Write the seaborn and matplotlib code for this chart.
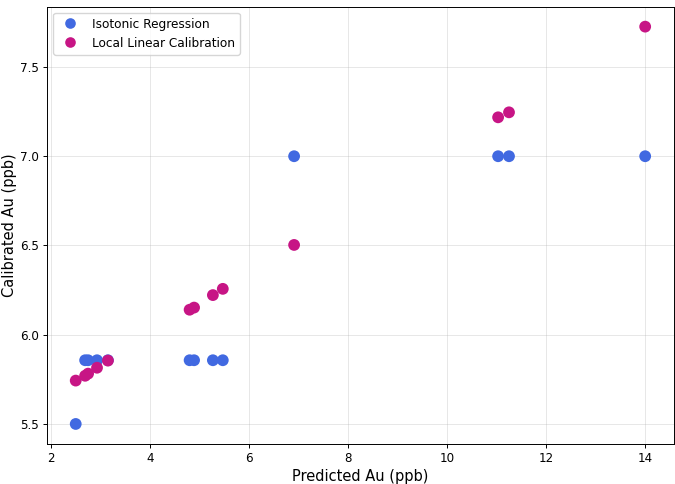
import matplotlib
matplotlib.use("Agg")
import matplotlib.pyplot as plt
import seaborn as sns
import pandas as pd

iso_x = [2.5, 2.69, 2.75, 2.93, 3.15, 4.80, 4.89, 5.27, 5.47, 6.91, 11.03, 11.25, 14.0]
iso_y = [5.5, 5.857, 5.857, 5.857, 5.857, 5.857, 5.857, 5.857, 5.857, 7.0, 7.0, 7.0, 7.0]
llc_x = [2.5, 2.69, 2.75, 2.93, 3.15, 4.80, 4.89, 5.27, 5.47, 6.91, 11.03, 11.25, 14.0]
llc_y = [5.743, 5.770, 5.782, 5.815, 5.855, 6.140, 6.152, 6.222, 6.257, 6.503, 7.218, 7.246, 7.726]

df = pd.concat([
    pd.DataFrame({"x": iso_x, "y": iso_y, "Method": "Isotonic Regression"}),
    pd.DataFrame({"x": llc_x, "y": llc_y, "Method": "Local Linear Calibration"}),
])

plt.rcParams["font.family"] = ["DejaVu Sans"]
fig, ax = plt.subplots(figsize=(6.75, 4.84), dpi=100)
sns.scatterplot(data=df, x="x", y="y", hue="Method",
                palette={"Isotonic Regression": "#4169E1", "Local Linear Calibration": "#C71585"},
                s=72, edgecolor="none", ax=ax)
ax.grid(True, alpha=0.3, linewidth=0.7)
ax.set_axisbelow(True)
ax.set_xlabel("Predicted Au (ppb)", fontsize=10.5, labelpad=3)
ax.set_ylabel("Calibrated Au (ppb)", fontsize=10.5, labelpad=2.5)
ax.set_xticks([2, 4, 6, 8, 10, 12, 14])
ax.set_yticks([5.5, 6.0, 6.5, 7.0, 7.5])
ax.tick_params(labelsize=8.6, length=3, width=0.7, pad=3)
for sp in ax.spines.values():
    sp.set_linewidth(0.7)
leg = ax.legend(loc="upper left", fontsize=8.7, title=None, markerscale=0.9)
fig.subplots_adjust(left=0.07, right=0.998, top=0.986, bottom=0.083)
fig.savefig("out.png", dpi=100)
